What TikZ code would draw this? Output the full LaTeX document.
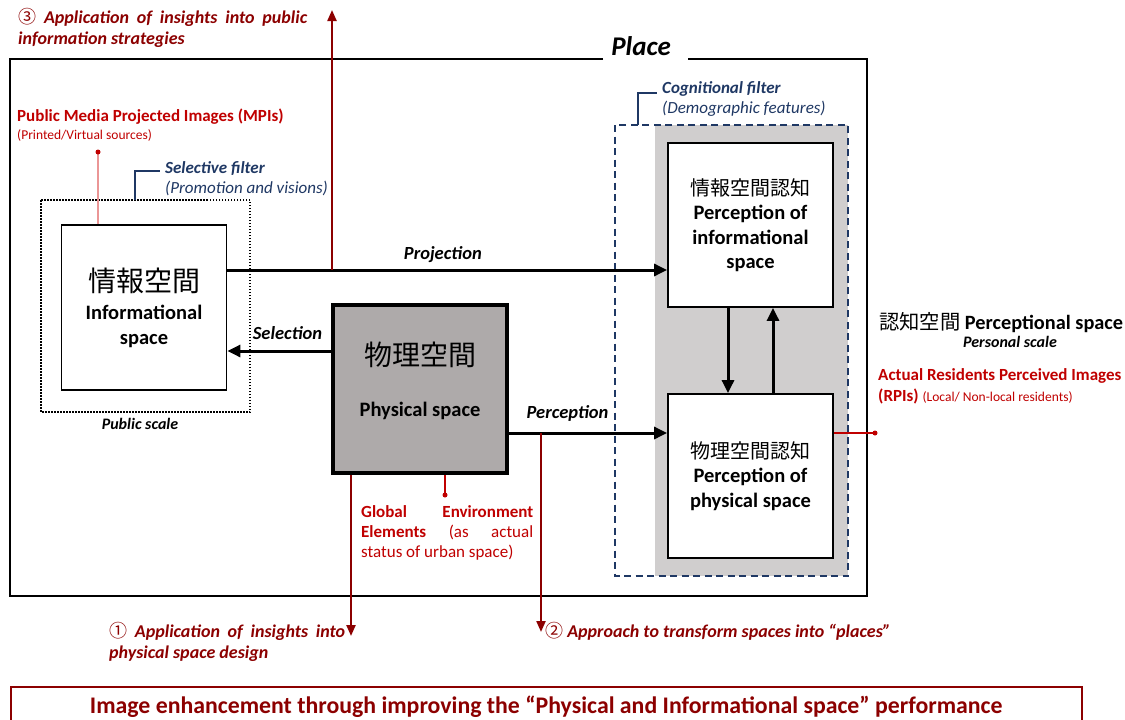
\documentclass[tikz,border=0pt]{standalone}
\usepackage{fontspec}
\setmainfont{Carlito}
\newfontfamily\cjk{Noto Sans CJK JP}
\usetikzlibrary{arrows.meta}

\definecolor{deepred}{RGB}{140,0,0}
\definecolor{mpired}{RGB}{192,0,0}
\definecolor{pinkline}{RGB}{235,150,150}
\definecolor{filterblue}{RGB}{31,56,100}
\definecolor{physgray}{RGB}{174,170,170}
\definecolor{cognigray}{RGB}{208,206,206}

\tikzset{
  box/.style={draw, line width=1.8pt, fill=white, align=center, inner sep=0pt,
    minimum width=165pt, minimum height=165pt,
    font=\bfseries\fontsize{20.5}{24.5}\selectfont},
  flow/.style={line width=3pt, -{Triangle[length=13pt,width=12pt]}},
  insight/.style={deepred, line width=2.2pt, -{Triangle[length=11pt,width=9pt]}},
  tag/.style={font=\bfseries\itshape\fontsize{18.5}{21}\selectfont, inner sep=1pt},
  insighttext/.style={inner sep=0pt, anchor=west, align=left, text=deepred,
    font=\bfseries\itshape\fontsize{18}{21}\selectfont},
  note/.style={inner sep=0pt, anchor=west, align=left},
}
\newcommand{\jp}[1]{{\mdseries\upshape\cjk #1}}

\begin{document}
\begin{tikzpicture}[x=1pt, y=-1pt]
    \useasboundingbox (0,0) rectangle (1125,720);
    \fill[white] (0,0) rectangle (1125,720);

    \def\projY{270}   % level of the projection arrow
    \def\selY{351}    % level of the selection arrow
    \def\percY{433}   % level of the perception arrow

    \coordinate (projlvl) at (0,\projY);
    \coordinate (sellvl) at (0,\selY);
    \coordinate (perclvl) at (0,\percY);

    % Place frame, open at the top for its title
    \node[font=\bfseries\itshape\fontsize{27}{28}\selectfont] (place) at (641,46) {Place};
    \draw[line width=1.8pt] (603,59) -| (10,596) -| (867,59) -- (688,59);

    % Public scale: informational space
    \draw[line width=1.5pt, dash pattern=on 1.5pt off 1.5pt] (41,200) rectangle (250,412);
    \node[tag, font=\bfseries\itshape\fontsize{16}{18}\selectfont] (pubscale) at (140,424) {Public scale};
    \node[box] (info) at (144,307.5)
        {{\fontsize{28}{30}\selectfont\jp{情報空間}}\\[4pt]Informational\\space};

    \draw[filterblue, line width=1.8pt] (135,200) |- (160,171);
    \node[note, filterblue, font=\fontsize{17}{20}\selectfont] (selfilter) at (165,179)
        {\textbf{\textit{Selective filter}}\\\textit{(Promotion and visions)}};

    \coordinate (mpidot) at (98,152);
    \draw[pinkline, line width=1.2pt] (mpidot) -- (info.north -| mpidot);
    \fill[mpired] (mpidot) circle (2.5pt);
    \node[note, mpired, font=\fontsize{17}{18}\selectfont] (mpi) at (17,125)
        {\textbf{Public Media Projected Images (MPIs)}\\{\fontsize{13.5}{18}\selectfont(Printed/Virtual sources)}};

    % Cognitional filter around the perception boxes
    \fill[cognigray] (655,125) rectangle (848,576);
    \draw[filterblue, line width=1.5pt, dash pattern=on 7pt off 4.5pt] (615,125) rectangle (848,576);
    \draw[filterblue, line width=1.8pt] (638,125) |- (657,93);
    \node[note, filterblue, font=\fontsize{17}{20}\selectfont] (cogfilter) at (662,99)
        {\textbf{\textit{Cognitional filter}}\\\textit{(Demographic features)}};

    \node[box, minimum height=164pt] (percinfo) at (750.5,225)
        {{\fontsize{20}{24.5}\selectfont\jp{情報空間認知}}\\Perception of\\informational\\space};
    \node[box, minimum height=164pt] (percphys) at (750.5,476)
        {{\fontsize{20}{24.5}\selectfont\jp{物理空間認知}}\\Perception of\\physical space};

    % Physical space
    \node[box, fill=physgray, line width=4pt, minimum width=174pt, minimum height=168pt,
        text depth=20pt] (phys) at (420,389)
        {{\fontsize{28}{30}\selectfont\jp{物理空間}}\\[26pt]Physical space};

    % Main flows
    \draw[flow] (info.east |- projlvl) -- (percinfo.west |- projlvl)
        node[tag, pos=0.49, above=5pt] (projlbl) {Projection};
    \draw[flow] (phys.west |- sellvl) -- (info.east |- sellvl)
        node[tag, pos=0.42, above=9pt] (sellbl) {Selection};
    \draw[flow] (phys.east |- perclvl) -- (percphys.west |- perclvl)
        node[tag, pos=0.37, above=9pt] (perclbl) {Perception};

    \coordinate (downx) at (728,0);
    \coordinate (upx) at (773,0);
    \draw[flow] (percinfo.south -| downx) -- (percphys.north -| downx);
    \draw[flow] (percphys.north -| upx) -- (percinfo.south -| upx);

    % Perceptional space, personal scale
    \node[note, font=\bfseries\fontsize{20.3}{22}\selectfont] (percspace) at (879,323)
        {\jp{認知空間} Perceptional space};
    \node[tag, font=\bfseries\itshape\fontsize{16}{18}\selectfont] (persscale) at (1010,342) {Personal scale};
    \coordinate (rpidot) at (875,\percY);
    \draw[mpired, line width=1.5pt] (percphys.east |- perclvl) -- (rpidot);
    \fill[mpired] (rpidot) circle (2.5pt);
    \node[note, mpired, font=\bfseries\fontsize{17}{21}\selectfont] (rpi) at (878,386.5)
        {Actual Residents Perceived Images\\(RPIs) {\mdseries\fontsize{13.5}{21}\selectfont(Local/ Non-local residents)}};

    % Global environment
    \coordinate (envdot) at (445,495);
    \draw[mpired, line width=1.5pt] (phys.south -| envdot) -- (envdot);
    \fill[mpired] (envdot) circle (2.5pt);
    \node[note, mpired, font=\fontsize{17}{20}\selectfont] (globenv) at (361,533)
        {\makebox[172pt][s]{\textbf{Global} \textbf{Environment}}\\
         \makebox[172pt][s]{\textbf{Elements} (as actual}\\status of urban space)};

    % Insights
    \coordinate (threebase) at (332,\projY);
    \coordinate (threetip) at (332,10);
    \draw[insight] (threebase) -- (threetip);
    \node[insighttext] (appthree) at (18,28)
        {\makebox[289pt][s]{\jp{③} Application of insights into public}\\information strategies};

    \coordinate (onex) at (351,0);
    \coordinate (onetip) at (351,636);
    \draw[insight] (phys.south -| onex) -- (onetip);
    \node[insighttext] (appone) at (109,641.5)
        {\makebox[236pt][s]{\jp{①} Application of insights into}\\physical space design};

    \coordinate (twobase) at (541,\percY);
    \coordinate (twotip) at (541,632);
    \draw[insight] (twobase) -- (twotip);
    \node[insighttext] (apptwo) at (545,631)
        {\jp{②} Approach to transform spaces into “places”};

    % Conclusion bar
    \node[draw=deepred, line width=1.5pt, anchor=north west, minimum width=1071pt,
        minimum height=40pt, text=deepred, font=\bfseries\fontsize{23.8}{26}\selectfont]
        (enhance) at (10,686)
        {Image enhancement through improving the “Physical and Informational space” performance};
\end{tikzpicture}
\end{document}
